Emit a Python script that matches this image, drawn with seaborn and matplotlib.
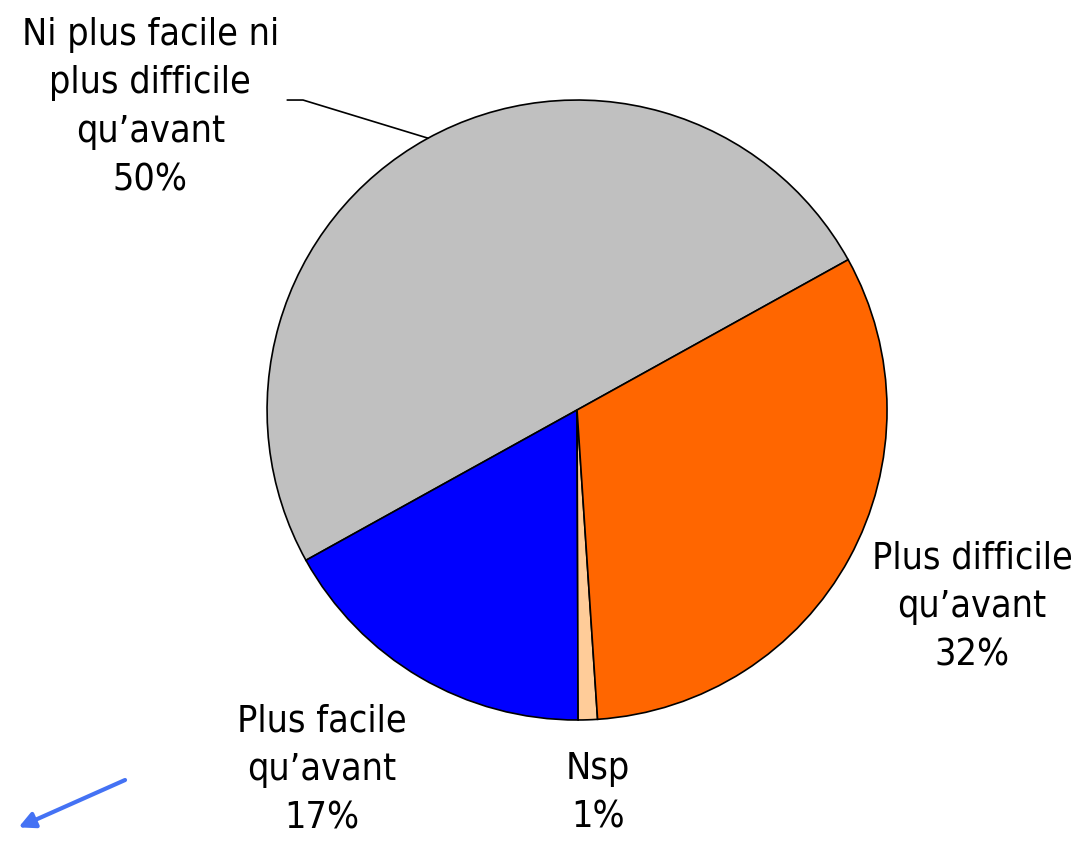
import matplotlib.pyplot as plt
import seaborn as sns

sns.set_theme(style="white")
plt.rcParams["font.family"] = ["DejaVu Sans"]
plt.rcParams["font.stretch"] = "condensed"
plt.rcParams["text.color"] = "black"

# Answers to the survey question, in counterclockwise order from the start angle
labels = ["Ni plus facile ni\nplus difficile\nqu\u2019avant", "Plus facile\nqu\u2019avant",
          "Nsp", "Plus difficile\nqu\u2019avant"]
shares = [50, 17, 1, 32]
colors = ["#C0C0C0", "#0000FF", "#FFCC99", "#FF6600"]

fig = plt.figure(figsize=(10.9, 8.42), dpi=100)
ax = fig.add_axes([0.245, 0.1449, 0.5688, 0.7363])

ax.pie(shares, colors=colors, startangle=29, counterclock=True,
       wedgeprops=dict(edgecolor="black", linewidth=1.2))
ax.set_xlim(-1, 1)
ax.set_ylim(-1, 1)
ax.set_aspect("equal")
ax.axis("off")

# label positions relative to the pie (radius = 1)
label_pos = [(-1.377, 0.975), (-0.823, -1.161), (0.068, -1.235), (1.274, -0.635)]
for lab, val, (x, y) in zip(labels, shares, label_pos):
    ax.text(x, y, f"{lab}\n{val}%", ha="center", va="center", fontsize=27,
            linespacing=1.45, clip_on=False, color="black")

# leader line for the big slice
ax.plot([-0.935, -0.884, -0.481], [1.0, 1.0, 0.877], color="black", lw=1.2,
        clip_on=False)

# stray arrow bottom-left
ax.annotate("", xy=(-1.81, -1.35), xytext=(-1.45, -1.19),
            arrowprops=dict(arrowstyle="-|>", color="#4472F4", lw=3,
                            mutation_scale=24), annotation_clip=False)

fig.savefig("out.png", dpi=100)
